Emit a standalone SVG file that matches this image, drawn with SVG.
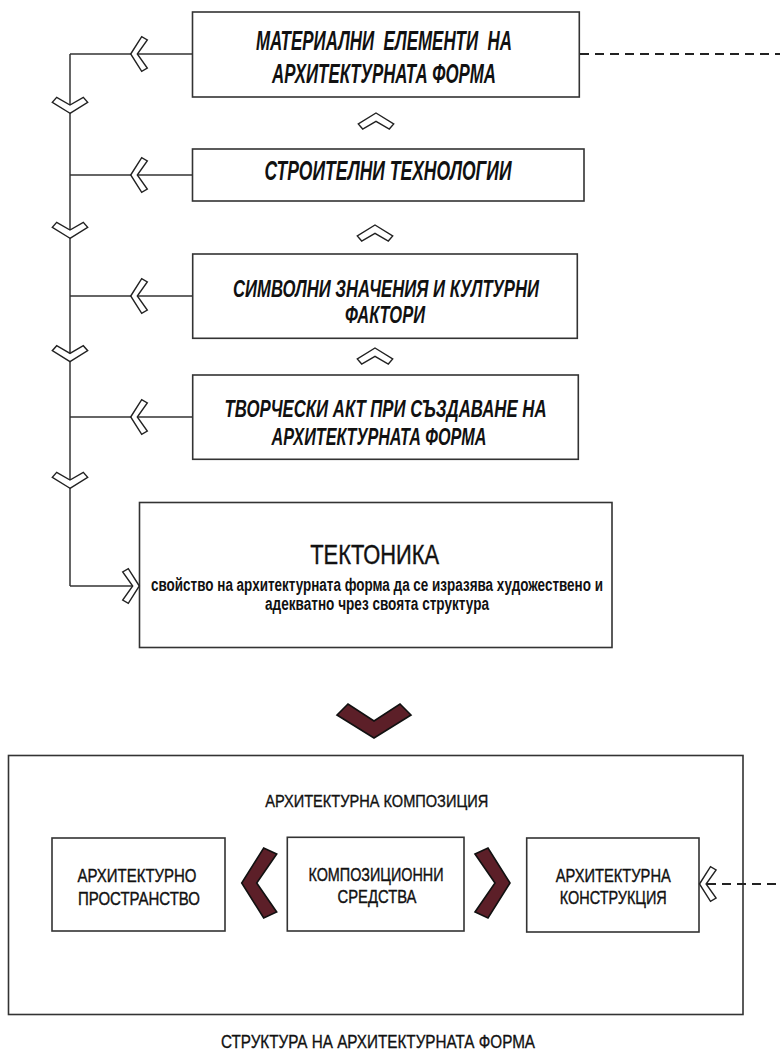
<svg xmlns="http://www.w3.org/2000/svg" width="780" height="1057" viewBox="0 0 780 1057">
<style>
.box{fill:#fff;stroke:#333;stroke-width:1.6}
.frame{fill:none;stroke:#333;stroke-width:1.6}
.ln{fill:none;stroke:#333;stroke-width:1.5}
.dash{fill:none;stroke:#222;stroke-width:2;stroke-dasharray:9 6}
.chev{fill:#fff;stroke:#222;stroke-width:1.4;stroke-linejoin:miter}
.dark{fill:#5c1f28;stroke:#111;stroke-width:1.6;stroke-linejoin:miter}
.ti{font-family:"Liberation Sans",Arial,sans-serif;font-weight:bold;font-style:italic;font-size:27px;fill:#111;text-anchor:middle}
.ti2{font-family:"Liberation Sans",Arial,sans-serif;font-weight:bold;font-style:italic;font-size:24px;fill:#111;text-anchor:middle}
.tk{font-family:"Liberation Sans",Arial,sans-serif;font-size:28px;fill:#111;stroke:#111;stroke-width:0.4;text-anchor:middle}
.tt{font-family:"Liberation Sans",Arial,sans-serif;font-size:16px;fill:#111;stroke:#111;stroke-width:0.35;text-anchor:middle}
.ts{font-family:"Liberation Sans",Arial,sans-serif;font-size:19px;fill:#111;stroke:#111;stroke-width:0.4;text-anchor:middle}
.tc{font-family:"Liberation Sans",Arial,sans-serif;font-size:19px;fill:#111;stroke:#111;stroke-width:0.35;text-anchor:middle}
.tb{font-family:"Liberation Sans",Arial,sans-serif;font-weight:bold;font-size:18px;fill:#111;text-anchor:middle}
</style>
<defs>
<polygon id="chevL" points="0,0 11,-17.3 16.6,-14 6.6,0 16.6,14 11,17.3"/>
<polygon id="chevR" points="0,0 -11,-17.3 -16.6,-14 -6.6,0 -16.6,14 -11,17.3"/>
<polygon id="chevU" points="0,0 17.7,11 13.3,16 0,8.3 -13.3,16 -17.7,11"/>
<polygon id="chevD" points="0,0 17.7,-11 13.3,-16 0,-8.3 -13.3,-16 -17.7,-11"/>
</defs>

<g id="n1">
<rect class="box" x="192.5" y="12" width="386.8" height="85"/>
<text class="ti" x="384" y="50" textLength="256" lengthAdjust="spacingAndGlyphs" xml:space="preserve">МАТЕРИАЛНИ  ЕЛЕМЕНТИ  НА</text>
<text class="ti" x="384" y="83" textLength="224" lengthAdjust="spacingAndGlyphs">АРХИТЕКТУРНАТА ФОРМА</text>
</g>

<g id="n2">
<rect class="box" x="192.5" y="149" width="391.5" height="52"/>
<text class="ti" x="388" y="180" textLength="247" lengthAdjust="spacingAndGlyphs">СТРОИТЕЛНИ ТЕХНОЛОГИИ</text>
</g>

<g id="n3">
<rect class="box" x="192.7" y="254" width="384.6" height="84.3"/>
<text class="ti2" x="386" y="296.7" textLength="306" lengthAdjust="spacingAndGlyphs">СИМВОЛНИ ЗНАЧЕНИЯ И КУЛТУРНИ</text>
<text class="ti2" x="385" y="323.3" textLength="80" lengthAdjust="spacingAndGlyphs">ФАКТОРИ</text>
</g>

<g id="n4">
<rect class="box" x="192.7" y="375" width="385.6" height="84.3"/>
<text class="ti2" x="385.5" y="416.7" textLength="322" lengthAdjust="spacingAndGlyphs">ТВОРЧЕСКИ АКТ ПРИ СЪЗДАВАНЕ НА</text>
<text class="ti2" x="379" y="445" textLength="215" lengthAdjust="spacingAndGlyphs">АРХИТЕКТУРНАТА ФОРМА</text>
</g>

<g id="n5">
<rect class="box" x="139.5" y="502.5" width="472.5" height="145"/>
<text class="tk" x="374.7" y="564" textLength="129" lengthAdjust="spacingAndGlyphs">ТЕКТОНИКА</text>
<text class="tb" x="377" y="590.7" textLength="452" lengthAdjust="spacingAndGlyphs">свойство на архитектурната форма да се изразява художествено и</text>
<text class="tb" x="377" y="609.8" textLength="224" lengthAdjust="spacingAndGlyphs">адекватно чрез своята структура</text>
</g>

<g id="n6">
<rect class="frame" x="8.5" y="755.5" width="734.5" height="259"/>
<text class="tt" x="376.7" y="807" textLength="223" lengthAdjust="spacingAndGlyphs">АРХИТЕКТУРНА КОМПОЗИЦИЯ</text>
</g>

<g id="n7">
<rect class="box" x="52" y="838" width="173" height="93"/>
<text class="ts" x="137" y="881.5" textLength="119" lengthAdjust="spacingAndGlyphs">АРХИТЕКТУРНО</text>
<text class="ts" x="139" y="904.5" textLength="122" lengthAdjust="spacingAndGlyphs">ПРОСТРАНСТВО</text>
</g>

<g id="n8">
<rect class="box" x="287.3" y="837.3" width="176.7" height="93.7"/>
<text class="ts" x="376" y="880.7" textLength="135" lengthAdjust="spacingAndGlyphs">КОМПОЗИЦИОННИ</text>
<text class="ts" x="377" y="903.3" textLength="79" lengthAdjust="spacingAndGlyphs">СРЕДСТВА</text>
</g>

<g id="n9">
<rect class="box" x="526.7" y="838" width="172.3" height="94"/>
<text class="ts" x="613.3" y="881.7" textLength="115" lengthAdjust="spacingAndGlyphs">АРХИТЕКТУРНА</text>
<text class="ts" x="613.3" y="904" textLength="107" lengthAdjust="spacingAndGlyphs">КОНСТРУКЦИЯ</text>
</g>

<g id="caption">
<text class="tc" x="378" y="1048" textLength="314" lengthAdjust="spacingAndGlyphs">СТРУКТУРА НА АРХИТЕКТУРНАТА ФОРМА</text>
</g>

<g id="connectors">
<line class="ln" x1="70" y1="54" x2="70" y2="586"/>
<line class="ln" x1="70" y1="54" x2="192.5" y2="54"/>
<line class="ln" x1="70" y1="175" x2="192.5" y2="175"/>
<line class="ln" x1="70" y1="296" x2="192.7" y2="296"/>
<line class="ln" x1="70" y1="417" x2="192.7" y2="417"/>
<line class="ln" x1="70" y1="586" x2="139" y2="586"/>
<line class="dash" x1="580" y1="54" x2="780" y2="54" stroke-dasharray="17 6 9 6 9 6 9 6 9 6 9 6 9 6 9 6 9 6 9 6 9 6 9 6 9 6 9 6 9 6"/>
<line class="dash" x1="707" y1="884" x2="780" y2="884"/>
<use href="#chevL" class="chev" x="130.7" y="54"/>
<use href="#chevL" class="chev" x="130.7" y="175"/>
<use href="#chevL" class="chev" x="130.7" y="296"/>
<use href="#chevL" class="chev" x="130.7" y="417"/>
<use href="#chevR" class="chev" x="139.3" y="586"/>
<use href="#chevD" class="chev" x="70" y="113.3"/>
<use href="#chevD" class="chev" x="70" y="238.3"/>
<use href="#chevD" class="chev" x="70" y="361.7"/>
<use href="#chevD" class="chev" x="70" y="488.3"/>
<use href="#chevU" class="chev" x="376" y="113"/>
<use href="#chevU" class="chev" x="375" y="225"/>
<use href="#chevU" class="chev" x="375" y="348"/>
<use href="#chevL" class="chev" x="699.5" y="884"/>
<polygon class="dark" points="337,715 348,704 374,721 400,704 411,715 374,738"/>
<polygon class="dark" points="276.7,854 263.7,848 241.7,883 263.7,918 276.7,912 256.7,883"/>
<polygon class="dark" points="475,854 488,848 510,883 488,918 475,912 495,883"/>
</g>
</svg>
